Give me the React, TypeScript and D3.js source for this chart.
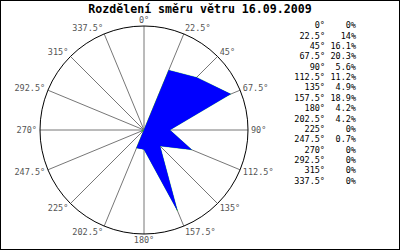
import React from "react";
import * as d3 from "d3";

const title = "Rozdělení směru větru 16.09.2009";
const directions = [0, 22.5, 45, 67.5, 90, 112.5, 135, 157.5, 180, 202.5, 225, 247.5, 270, 292.5, 315, 337.5];
const percents = [0, 14, 16.1, 20.3, 5.6, 11.2, 4.9, 18.9, 4.2, 4.2, 0, 0.7, 0, 0, 0, 0];
const percentLabels = ["0%", "14%", "16.1%", "20.3%", "5.6%", "11.2%", "4.9%", "18.9%", "4.2%", "4.2%", "0%", "0.7%", "0%", "0%", "0%", "0%"];
const scaleMax = 22.5;

const W = 400;
const H = 250;
const cx = 144;
const cy = 130;
const R = 104;
const mono = "'DejaVu Sans Mono', monospace";

export default function App() {
  const r = d3.scaleLinear().domain([0, scaleMax]).range([0, R]);
  const rad = (deg: number) => (deg * Math.PI) / 180;
  const line = d3
    .lineRadial<number>()
    .angle((_, i) => rad(directions[i]))
    .radius((d) => r(d))
    .curve(d3.curveLinearClosed);
  const path = line(percents) || "";
  const legendY = d3.scaleLinear().domain([0, 15]).range([25.3, 180.7]);

  return (
    <svg width={W} height={H} style={{ position: "fixed", left: 0, top: 0, background: "#fff" }}>
      <rect x={0.5} y={0.5} width={W - 1} height={H - 1} fill="#fff" stroke="#000" />
      <text x={200} y={13} textAnchor="middle" fontFamily={mono} fontWeight="bold" fontSize={11.6} fill="#000">
        {title}
      </text>
      <g transform={`translate(${cx},${cy})`}>
        {directions.map((d) => (
          <line key={d} x1={0} y1={0} x2={R * Math.sin(rad(d))} y2={-R * Math.cos(rad(d))} stroke="#777" strokeWidth={1} />
        ))}
        <path d={path} fill="#0000ff" stroke="#00cc00" strokeWidth={0.4} />
        <path d={path} fill="#0000ff" stroke="none" />
        <circle r={R} fill="none" stroke="#000" strokeWidth={1} />
        {directions.map((d) => {
          const s = Math.sin(rad(d));
          const c = Math.cos(rad(d));
          const px = R * s;
          const py = -R * c;
          const anchor = Math.abs(s) < 0.01 ? "middle" : s > 0 ? "start" : "end";
          const x = px + 3 * s;
          const y = py - 6 * c + 3;
          return (
            <text key={d} x={x} y={y} textAnchor={anchor} fontFamily={mono} fontSize={8.5} fill="#555">
              {d + "°"}
            </text>
          );
        })}
      </g>
      {directions.map((d, i) => (
        <g key={d}>
          <text x={325} y={legendY(i) + 3} textAnchor="end" fontFamily={mono} fontSize={8.5} fill="#000">
            {d + "°"}
          </text>
          <text x={356} y={legendY(i) + 3} textAnchor="end" fontFamily={mono} fontSize={8.5} fill="#000">
            {percentLabels[i]}
          </text>
        </g>
      ))}
    </svg>
  );
}
